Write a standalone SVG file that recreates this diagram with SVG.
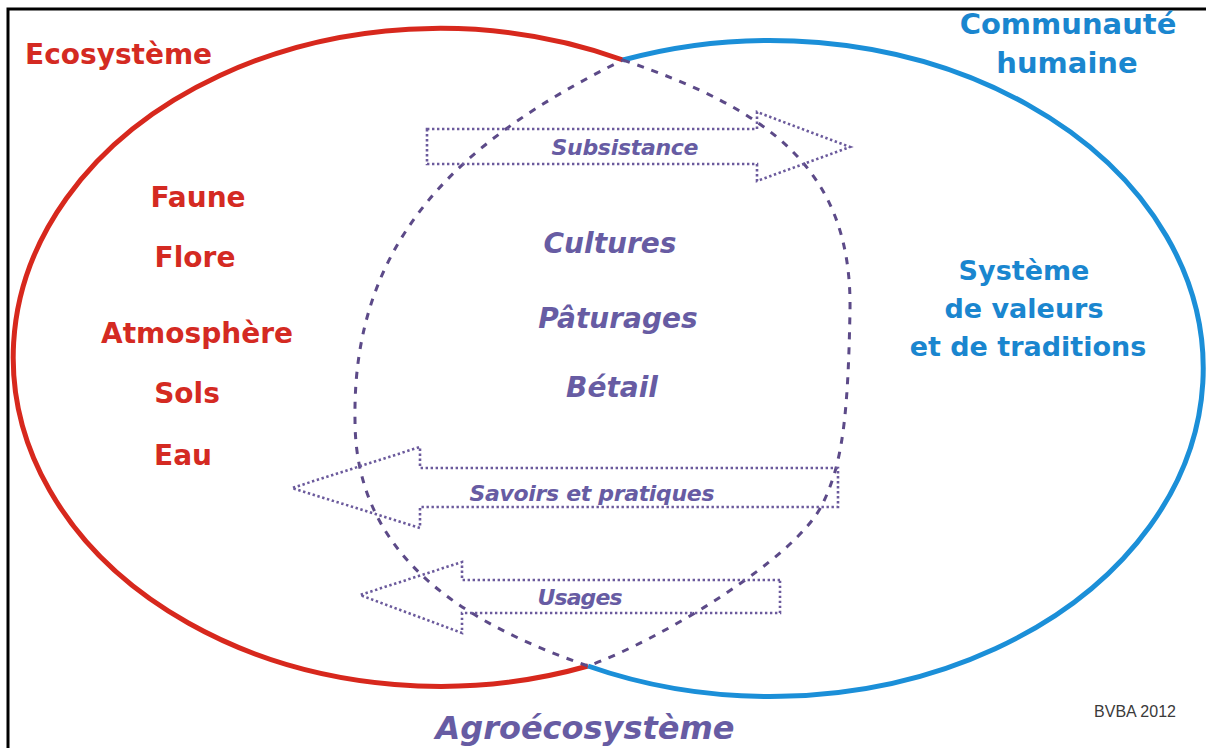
<svg xmlns="http://www.w3.org/2000/svg" width="1206" height="748" viewBox="0 0 1206 748">
<style>
.lbl{font-family:"DejaVu Sans","Liberation Sans",sans-serif;font-weight:bold;text-anchor:middle}
.red{fill:#d42a22;font-size:28px}
.blue{fill:#1a86cf;font-size:27px}
.purple{fill:#675ca3;font-style:italic}
.arrow{fill:none;stroke:#6b5a9c;stroke-width:2.6;stroke-dasharray:2.4 2.6}
.dash{fill:none;stroke:#5c4a88;stroke-width:3;stroke-dasharray:7 8}
</style>
<rect width="1206" height="748" fill="#ffffff"/>
<g id="frame">
<rect x="8" y="9" width="1220" height="760" fill="none" stroke="#000000" stroke-width="3"/>
</g>
<g id="ecosysteme">
<path d="M623 60 A427 329 0 1 0 588 666" fill="none" stroke="#d7281d" stroke-width="5"/>
<text class="lbl red" x="25" y="64" style="text-anchor:start">Ecosystème</text>
<text class="lbl red" x="198" y="207">Faune</text>
<text class="lbl red" x="195" y="267">Flore</text>
<text class="lbl red" x="197" y="343">Atmosphère</text>
<text class="lbl red" x="187" y="403">Sols</text>
<text class="lbl red" x="183" y="465">Eau</text>
</g>
<g id="communaute">
<path d="M623 60 A433 328 0 1 1 588 666" fill="none" stroke="#1b8fd8" stroke-width="5"/>
<text class="lbl blue" x="1068" y="34" style="font-size:29px">Communauté</text>
<text class="lbl blue" x="1067" y="73" style="font-size:29px">humaine</text>
<text class="lbl blue" x="1024" y="280">Système</text>
<text class="lbl blue" x="1024" y="318">de valeurs</text>
<text class="lbl blue" x="1028" y="356">et de traditions</text>
</g>
<g id="agroecosysteme">
<path class="dash" d="M623 60 C770 110 852 170 850 310 C848 420 842 465 822 505 C795 559 660 640 588 666 C470 625 355 560 355 420 C352 240 460 140 623 60 Z"/>
<text class="lbl purple" x="610" y="253" style="font-size:28px">Cultures</text>
<text class="lbl purple" x="618" y="328" style="font-size:28px">Pâturages</text>
<text class="lbl purple" x="612" y="397" style="font-size:28px">Bétail</text>
<text class="lbl purple" x="585" y="739" style="font-size:32px">Agroécosystème</text>
</g>
<g id="connectors">
<g id="arrow-subsistance">
<path class="arrow" d="M427 129 H757 V112 L850 147 L757 181 V164 H427 Z"/>
<text class="lbl purple" x="625" y="155" style="font-size:22px" textLength="147" lengthAdjust="spacing">Subsistance</text>
</g>
<g id="arrow-savoirs">
<path class="arrow" d="M838 468 H420 V447 L292 488 L420 528 V507 H838 Z"/>
<text class="lbl purple" x="592" y="501" style="font-size:22px" textLength="245" lengthAdjust="spacing">Savoirs et pratiques</text>
</g>
<g id="arrow-usages">
<path class="arrow" d="M780 580 H462 V562 L360 595 L462 633 V613 H780 Z"/>
<text class="lbl purple" x="580" y="605" style="font-size:22px" textLength="85" lengthAdjust="spacing">Usages</text>
</g>
</g>
<g id="credit">
<text x="1135" y="717" style="font-family:'Liberation Sans',sans-serif;font-size:16px;fill:#3a3a3a;text-anchor:middle">BVBA 2012</text>
</g>
</svg>
